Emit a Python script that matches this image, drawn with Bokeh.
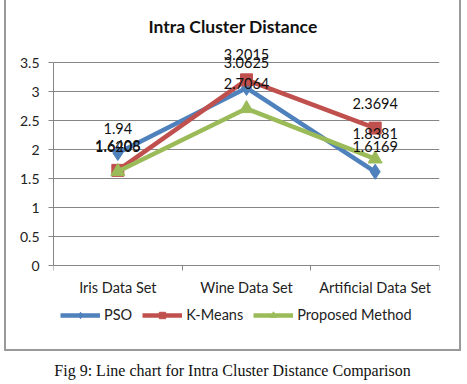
from bokeh.plotting import figure
from bokeh.models import (FixedTicker, NumeralTickFormatter, Range1d, Legend, LegendItem,
                          ColumnDataSource, LabelSet, Label)
from bokeh.core.properties import value
from bokeh.embed import file_html
from bokeh.resources import INLINE

categories = ["Iris Data Set", "Wine Data Set", "Artificial Data Set"]
pso = [1.94, 3.0625, 1.6169]
kmeans = [1.6408, 3.2015, 2.3694]
proposed = [1.6205, 2.7064, 1.8381]
y_ticks = [0, 0.5, 1, 1.5, 2, 2.5, 3, 3.5]
title_text = "Intra Cluster Distance"
caption_text = "Fig 9: Line chart for Intra Cluster Distance Comparison"

FONT = "Lato"
FS = "14.5px"
xs = [i + 0.5 for i in range(len(categories))]

p = figure(width=467, height=384, output_backend="svg", toolbar_location=None,
           x_range=Range1d(0, len(categories)), y_range=Range1d(-2.051, 3.88),
           min_border_left=53, min_border_right=28, min_border_top=40, min_border_bottom=0,
           title=title_text)
p.outline_line_color = None
p.background_fill_color = None
p.border_fill_color = None
G = "linear-gradient(#9a9a9a,#9a9a9a)"
p.styles = {"background": f"{G} 4px 0px/2px 351px no-repeat, {G} 459px 0px/2px 351px no-repeat, "
                          f"{G} 4px 349px/457px 2px no-repeat, white"}

p.title.align = "left"
p.title.offset = 95
p.title.text_font = FONT
p.title.text_font_size = "17.5px"
p.title.text_font_style = "bold"
p.title.text_color = "#111111"
p.title.standoff = 8

# axes
p.xaxis.fixed_location = 0
p.xaxis.ticker = FixedTicker(ticks=xs, minor_ticks=list(range(len(categories) + 1)))
p.xaxis.major_label_overrides = {x: c for x, c in zip(xs, categories)}
p.xaxis.major_tick_line_color = None
p.xaxis.minor_tick_in = 0
p.xaxis.minor_tick_out = 5
p.xaxis.minor_tick_line_color = "#868686"
p.xaxis.axis_line_color = "#868686"
p.xaxis.major_label_text_font = FONT
p.xaxis.major_label_text_font_size = FS
p.xaxis.major_label_text_color = "#222222"
p.xaxis.major_label_standoff = 7

p.yaxis.ticker = FixedTicker(ticks=y_ticks)
p.yaxis.bounds = (0, 3.5)
p.yaxis.formatter = NumeralTickFormatter(format="0.[0]")
p.yaxis.major_tick_in = 0
p.yaxis.major_tick_out = 5
p.yaxis.major_tick_line_color = "#868686"
p.yaxis.minor_tick_line_color = None
p.yaxis.axis_line_color = "#868686"
p.yaxis.major_label_text_font = FONT
p.yaxis.major_label_text_font_size = "14px"
p.yaxis.major_label_text_color = "#222222"
p.yaxis.major_label_standoff = 9

p.xgrid.grid_line_color = None
p.ygrid.grid_line_color = "#868686"
p.ygrid.grid_line_width = 1

series = [
    ("PSO", pso, "#4F81BD", "diamond", 15),
    ("K-Means", kmeans, "#C0504D", "square", 12),
    ("Proposed Method", proposed, "#9BBB59", "triangle", 14),
]
items = []
sources = []
for name, vals, color, marker, size in series:
    src = ColumnDataSource(dict(x=xs, y=vals, lab=[f"{v:g}" for v in vals]))
    sources.append(src)
    r1 = p.line("x", "y", source=src, line_color=color, line_width=4.5)
    r2 = p.scatter("x", "y", source=src, marker=marker, size=size, fill_color=color, line_color=color)
    items.append((name, [r1, r2]))

for src in sources:
    p.add_layout(LabelSet(x="x", y="y", text="lab", source=src, text_font=value(FONT),
                          text_font_size=value(FS), text_color="#111111", text_align="center",
                          text_baseline="middle", y_offset=25))

legend = Legend(items=[LegendItem(label=n, renderers=r) for n, r in items],
                orientation="horizontal", location=(7, 61), padding=0, margin=0,
                glyph_width=40, glyph_height=16, label_height=16, label_standoff=4, spacing=10,
                label_text_font=FONT, label_text_font_size=FS, label_text_color="#222222",
                border_line_color=None, background_fill_alpha=0)
p.add_layout(legend, "center")

p.add_layout(Label(x=len(categories) / 2, y=-1.81, x_offset=-14, text=caption_text,
                   text_font="Liberation Serif", text_font_size="16px", text_color="#111111",
                   text_align="center", text_baseline="middle"))

open("out.html", "w").write(file_html(p, INLINE))
